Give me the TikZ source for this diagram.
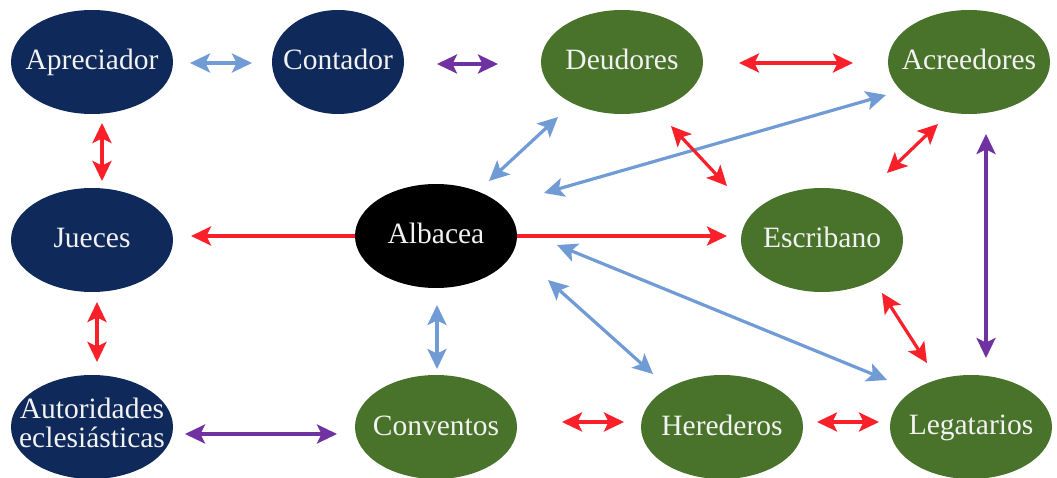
\documentclass[tikz,border=0pt]{standalone}
\usepackage{fontspec}
\setmainfont{Liberation Serif}
\usetikzlibrary{arrows.meta,calc,shapes.geometric,backgrounds}
\definecolor{navy}{RGB}{14,41,90}
\definecolor{grn}{RGB}{73,115,43}
\definecolor{rd}{RGB}{250,32,42}
\definecolor{lb}{RGB}{112,155,213}
\definecolor{pp}{RGB}{112,50,160}
\newcommand{\lbl}[1]{\makebox[0pt]{\rule[-6pt]{0pt}{28pt}#1}}
\begin{document}
\begin{tikzpicture}[x=1pt,y=-1pt,
  ell/.style={ellipse, minimum width=162pt, minimum height=104pt, inner sep=0pt,
    text=white!95!black, font=\fontsize{29.5}{28}\selectfont},
  nv/.style={ell, fill=navy},
  gr/.style={ell, fill=grn},
  bk/.style={ell, fill=black},
  tip/.tip={Stealth[length=20pt,width=19pt,inset=4.5pt]},
  arr/.style={line width=3.2pt, tip-tip},
  arrone/.style={line width=3.2pt, -tip},
  ab/.style={arr, draw=lb, fill=lb},
  ar/.style={arr, draw=rd, fill=rd},
  ap/.style={arr, draw=pp, fill=pp},
]
\useasboundingbox (0,0) rectangle (1057,478);

\node[nv] (apr) at (92,62) {\lbl{Apreciador}};
\node[nv, minimum width=132pt] (con) at (338,62) {\lbl{Contador}};
\node[gr] (deu) at (622,62) {\lbl{Deudores}};
\node[gr] (acr) at (969,62) {\lbl{Acreedores}};
\node[nv] (jue) at (92,240) {\lbl{Jueces}};
\node[bk] (alb) at (436,236) {\lbl{Albacea}};
\node[gr] (esc) at (822,240) {\lbl{Escribano}};
\node[nv] (aut) at (92,427) {\makebox[0pt]{\raisebox{-3pt}{\begin{tabular}{@{}c@{}}Autoridades\\eclesiásticas\end{tabular}}}};
\node[gr] (conv) at (436,427) {\lbl{Conventos}};
\node[gr] (her) at (722,427) {\lbl{Herederos}};
\node[gr] (leg) at (971,427) {\lbl{Legatarios}};

\begin{scope}[on background layer]
\draw[arrone, draw=rd, fill=rd] (alb.center) -- ($(jue)+(99,-4)$);
\draw[arrone, draw=rd, fill=rd] (alb.center) -- ($(esc)+(-95,-4)$);
\end{scope}

\draw[ab] ($(apr)+(98,1)$) -- ($(con)+(-86,1)$);
\draw[ap] ($(con)+(99,2)$) -- ($(deu)+(-124,2)$);
\draw[ar] ($(deu)+(117,1)$) -- ($(acr)+(-116,1)$);
\draw[ar] ($(apr)+(10,61)$) -- ($(jue)+(10,-59)$);
\draw[ab] ($(alb)+(53,-55)$) -- ($(deu)+(-64,55)$);
\draw[ab] ($(alb)+(108,-43)$) -- ($(acr)+(-83,33)$);
\draw[ar] ($(deu)+(49,64)$) -- ($(esc)+(-95,-54)$);
\draw[ar] ($(acr)+(-31,62)$) -- ($(esc)+(65,-67)$);
\draw[ap] ($(acr)+(17,72)$) -- ($(leg)+(15,-69)$);
\draw[ar] ($(jue)+(5,62)$) -- ($(aut)+(5,-65)$);
\draw[ab] ($(alb)+(1,69)$) -- ($(conv)+(1,-58)$);
\draw[ap] ($(aut)+(93,7)$) -- ($(conv)+(-99,7)$);
\draw[ar] ($(conv)+(126,-5)$) -- ($(her)+(-98,-5)$);
\draw[ar] ($(her)+(95,-5)$) -- ($(leg)+(-92,-5)$);
\draw[ab] ($(alb)+(112,44)$) -- ($(her)+(-69,-53)$);
\draw[ab] ($(alb)+(121,9)$) -- ($(leg)+(-84,-47)$);
\draw[ar] ($(esc)+(60,53)$) -- ($(leg)+(-44,-64)$);
\end{tikzpicture}
\end{document}
